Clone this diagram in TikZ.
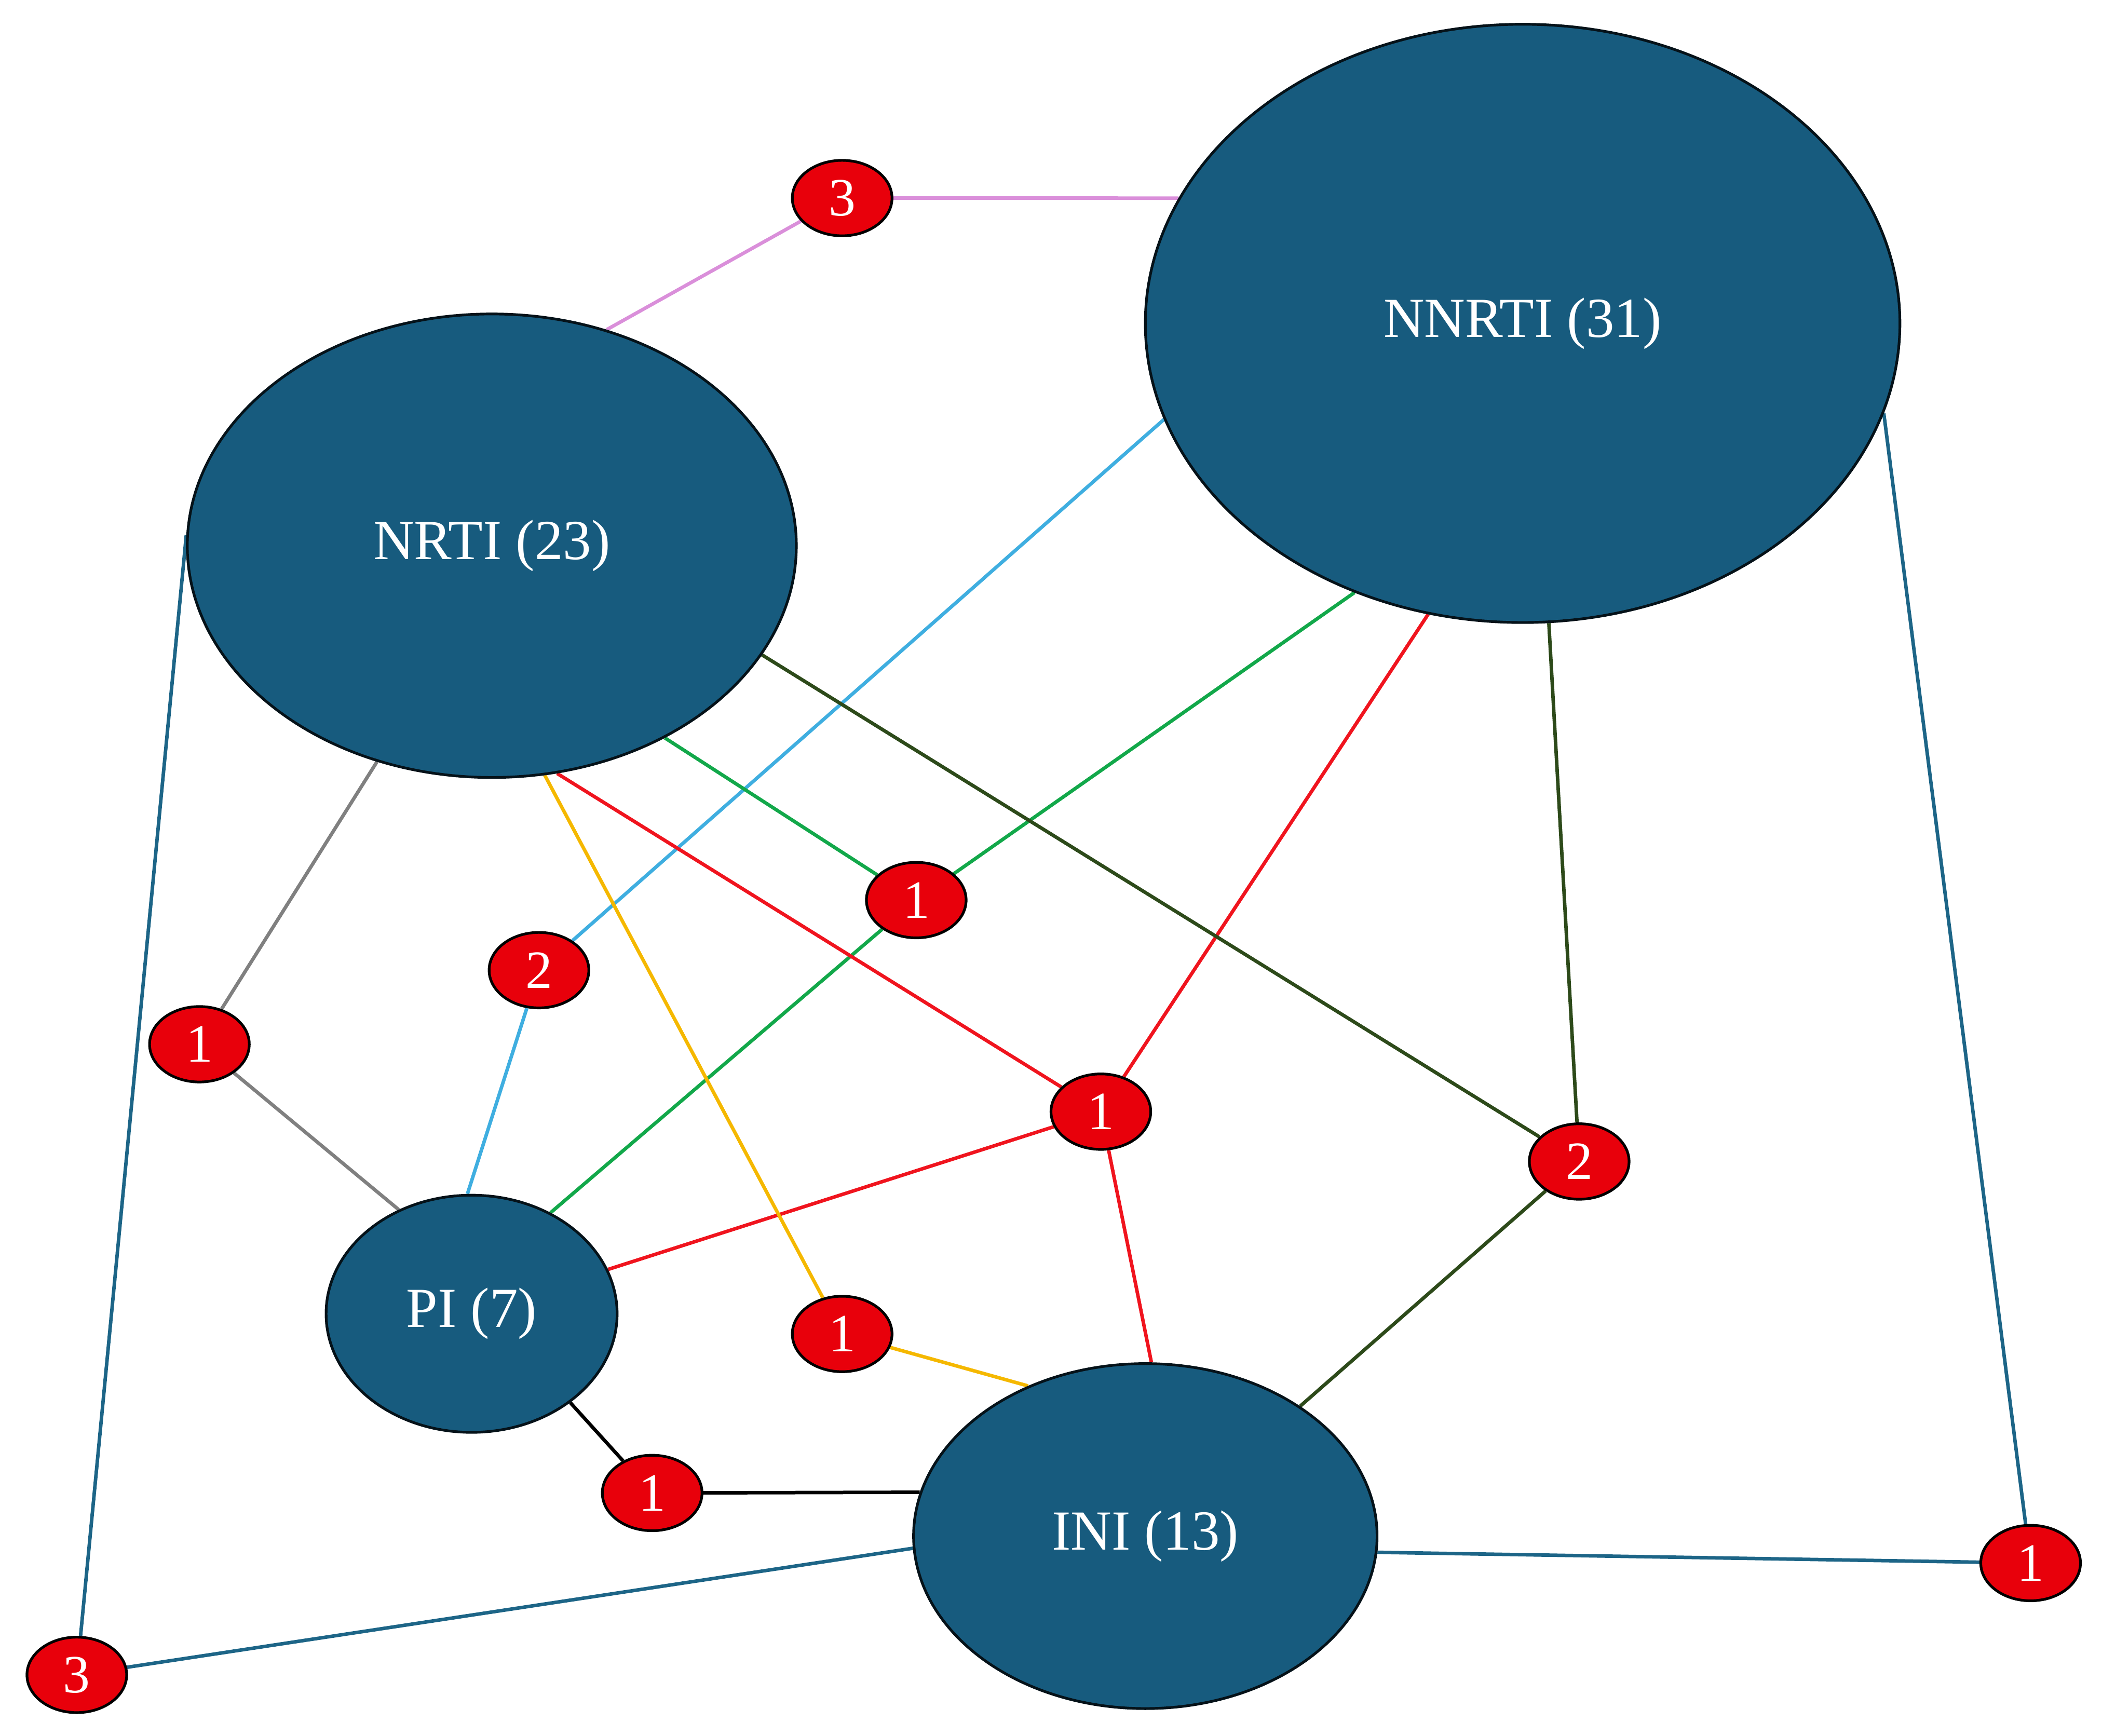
\documentclass[tikz,border=0pt]{standalone}
\usepackage{fontspec}
\setmainfont{Liberation Serif}
\usetikzlibrary{shapes.geometric,backgrounds}
\definecolor{big}{HTML}{175B7E}
\definecolor{sred}{HTML}{E8000B}
\definecolor{pink}{HTML}{DA8FDA}
\definecolor{lblue}{HTML}{3FAEE0}
\definecolor{grn}{HTML}{12A84A}
\definecolor{dgrn}{HTML}{2D4A1A}
\definecolor{yel}{HTML}{F5B800}
\definecolor{teal}{HTML}{1D6587}
\definecolor{edgered}{HTML}{F0141E}
\begin{document}
\begin{tikzpicture}[x=1pt,y=-1pt,
 big/.style={ellipse,fill=big,draw=black!80!big,line width=2pt,inner sep=0pt,text=white,font=\fontsize{42}{50}\selectfont},
 sm/.style={ellipse,fill=sred,draw=black,line width=2pt,inner sep=0pt,minimum width=74pt,minimum height=56pt,text=white,font=\fontsize{40}{48}\selectfont},
 e/.style={line width=2.6pt}]
\useasboundingbox (0,0) rectangle (1560,1288);
\node[big,minimum width=560pt,minimum height=444pt] (nnrti) at (1130,240) {NNRTI (31)};
\node[big,minimum width=452pt,minimum height=344pt] (nrti) at (365,405) {NRTI (23)};
\node[big,minimum width=216pt,minimum height=176pt] (pi) at (350,975) {PI (7)};
\node[big,minimum width=344pt,minimum height=256pt] (ini) at (850,1140) {INI (13)};
\node[sm] (a) at (625,147) {3};
\node[sm] (b) at (680,668) {1};
\node[sm] (c) at (400,720) {2};
\node[sm] (d) at (148,775) {1};
\node[sm] (f) at (817,825) {1};
\node[sm] (g) at (1172,862) {2};
\node[sm] (h) at (625,990) {1};
\node[sm] (k) at (484,1108) {1};
\node[sm] (m) at (57,1243) {3};
\node[sm] (n) at (1507,1160) {1};
\begin{pgfonlayer}{background}
\draw[e,pink] (nrti.62) -- (a) -- (nnrti.160);
\draw[e,gray] (nrti.-118) -- (d) -- (pi.125);
\draw[e,teal] (nrti.178) -- (m) -- (ini.183);
\draw[e,teal] (nnrti.-14) -- (n) -- (ini.-4);
\draw[e,lblue] (nnrti.-165) -- (c) -- (pi.92);
\draw[e,grn] (nrti.-48) -- (b) -- (nnrti.-122);
\draw[e,grn] (pi.52) -- (b);
\draw[e,edgered] (nrti.-74) -- (f) -- (nnrti.-108);
\draw[e,edgered] (pi.18) -- (f) -- (ini.88);
\draw[e,yel] (nrti.-77) -- (h) -- (ini.128);
\draw[e,dgrn] (nrti.-22) -- (g) -- (nnrti.-85);
\draw[e,dgrn] (g) -- (ini.40);
\draw[e,black] (pi.-42) -- (k) -- (ini.169);
\end{pgfonlayer}
\end{tikzpicture}
\end{document}
